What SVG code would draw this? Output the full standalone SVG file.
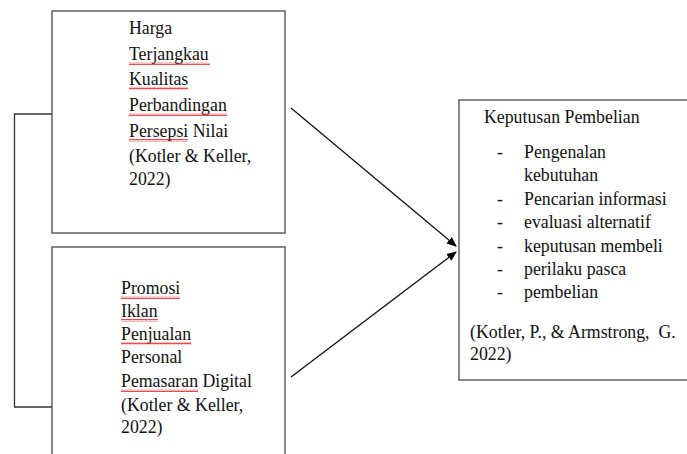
<svg xmlns="http://www.w3.org/2000/svg" width="687" height="454" viewBox="0 0 687 454">
<defs>
<style>
.box{fill:#fff;stroke:#555;stroke-width:1.4}
.ln{fill:none;stroke:#333;stroke-width:1.3}
.arr{fill:none;stroke:#111;stroke-width:1.3}
text{font-family:"Liberation Serif","Times New Roman",serif;font-size:17.8px;fill:#111}
.sq{fill:url(#wave)}
</style>
<pattern id="wave" patternUnits="userSpaceOnUse" width="4" height="3">
<path d="M0,2.4 L1,0.6 L2,2.4 L3,0.6 L4,2.4" fill="none" stroke="#e02020" stroke-width="0.8"/>
</pattern>
<marker id="ah" markerWidth="10" markerHeight="10" refX="9" refY="5" orient="auto" markerUnits="userSpaceOnUse">
<path d="M0,0.8 L10,5 L0,9.2 Z" fill="#000"/>
</marker>
</defs>
<rect width="687" height="454" fill="#fff"/>

<g id="connectors">
<path class="ln" d="M52,114 H14.5 V407 H52"/>
<line class="arr" x1="291" y1="108" x2="456" y2="246" marker-end="url(#ah)"/>
<line class="arr" x1="291" y1="377" x2="456" y2="252" marker-end="url(#ah)"/>
</g>

<g id="node-harga">
<rect class="box" x="52" y="11" width="233" height="222"/>
<text x="129" y="34">Harga</text>
<text x="129" y="60">Terjangkau</text>
<text x="129" y="85">Kualitas</text>
<text x="129" y="111">Perbandingan</text>
<text x="129" y="137">Persepsi Nilai</text>
<text x="129" y="162">(Kotler &amp; Keller,</text>
<text x="129" y="185">2022)</text>
<rect class="sq" x="129" y="62" width="81" height="3"/>
<rect class="sq" x="129" y="87" width="59" height="3"/>
<rect class="sq" x="129" y="113" width="98" height="3"/>
<rect class="sq" x="129" y="139" width="59" height="3"/>
</g>

<g id="node-promosi">
<rect class="box" x="52" y="247" width="233" height="215"/>
<text x="121" y="294">Promosi</text>
<text x="121" y="317">Iklan</text>
<text x="121" y="340">Penjualan</text>
<text x="121" y="363">Personal</text>
<text x="121" y="387">Pemasaran Digital</text>
<text x="121" y="411">(Kotler &amp; Keller,</text>
<text x="121" y="433">2022)</text>
<rect class="sq" x="121" y="296" width="59" height="3"/>
<rect class="sq" x="121" y="319" width="37" height="3"/>
<rect class="sq" x="121" y="342" width="70" height="3"/>
<rect class="sq" x="121" y="389" width="77" height="3"/>
</g>

<g id="node-keputusan">
<rect class="box" x="459" y="100" width="240" height="280"/>
<text x="484" y="123">Keputusan Pembelian</text>
<text x="497" y="158">-</text><text x="524" y="158">Pengenalan</text>
<text x="524" y="181">kebutuhan</text>
<text x="497" y="205">-</text><text x="524" y="205">Pencarian informasi</text>
<text x="497" y="228">-</text><text x="524" y="228">evaluasi alternatif</text>
<text x="497" y="252">-</text><text x="524" y="252">keputusan membeli</text>
<text x="497" y="275">-</text><text x="524" y="275">perilaku pasca</text>
<text x="497" y="298">-</text><text x="524" y="298">pembelian</text>
<text x="470" y="338">(Kotler, P., &amp; Armstrong,&#160; G.</text>
<text x="470" y="360">2022)</text>
</g>
</svg>
